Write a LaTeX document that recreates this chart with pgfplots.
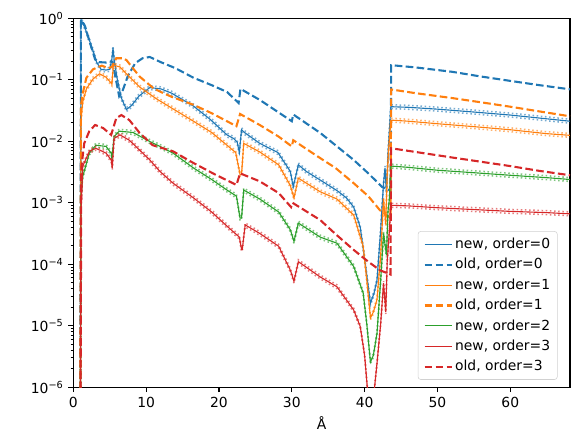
\documentclass[border=0pt]{standalone}
\usepackage{fontspec}
\setmainfont{DejaVu Sans}
\usepackage{pgfplots}
\usepackage{pgfplotstable}
\pgfplotsset{compat=1.18}
\usetikzlibrary{calc}
\definecolor{C0}{HTML}{1F77B4}
\definecolor{C1}{HTML}{FF7F0E}
\definecolor{C2}{HTML}{2CA02C}
\definecolor{C3}{HTML}{D62728}

% new, order=0
\pgfplotstableread{
x y
0.95 1e-8
1.05 0.90
1.1 0.93
1.5 0.75
2.3 0.41
2.8 0.275
3.2 0.194
3.8 0.148
4.5 0.144
5.0 0.148
5.3 0.219
5.45 0.33
5.6 0.219
6.0 0.108
6.6 0.0505
7.3 0.0328
8.0 0.0382
9.0 0.0541
10.5 0.0747
12.0 0.0713
13.5 0.0606
16.5 0.0374
18.8 0.0227
21.1 0.0127
22.0 0.0111
22.5 0.0097
22.8 0.00655
23.1 0.0154
23.5 0.0139
25.6 0.00925
28.1 0.00655
29.8 0.00323
30.2 0.00181
30.9 0.00414
32.0 0.00323
33.9 0.00234
36.2 0.00158
37.5 0.00120
38.5 8.5e-4
39.4 3.98e-4
40.0 1.23e-4
40.8 2.32e-5
41.3 3.41e-5
41.7 5.54e-5
42.2 3.54e-4
42.6 2.08e-3
42.8 3.68e-3
43.0 1.44e-3
43.2 5.84e-3
43.4 0.0150
43.6 0.0365
46 0.0357
50 0.0333
55 0.0299
60 0.0267
65 0.0232
68.2 0.0212
}\newA

% old, order=0
\pgfplotstableread{
x y
0.95 1e-8
1.05 0.90
1.1 0.95
1.6 0.75
2.3 0.395
3.0 0.214
3.5 0.194
4.5 0.191
5.0 0.199
5.4 0.194
5.8 0.108
6.3 0.0541
6.8 0.068
7.5 0.116
8.5 0.186
9.5 0.224
10.5 0.235
12.0 0.194
14 0.155
16.5 0.108
19 0.0818
21.1 0.0635
22.7 0.042
22.95 0.0713
25.6 0.0471
28.1 0.0299
30.0 0.0212
30.2 0.0273
33.9 0.0137
36 0.00863
38.5 0.00497
40.5 0.00301
42.4 0.00181
43.55 0.00158
43.65 0.173
47 0.159
52 0.135
56 0.113
60 0.096
64 0.0818
68.2 0.070
}\oldA

% new, order=1
\pgfplotstableread{
x y
0.95 1e-8
1.05 0.0212
1.3 0.0439
1.8 0.0713
2.7 0.103
3.6 0.125
4.5 0.110
5.3 0.0857
5.5 0.173
6.4 0.162
7.3 0.125
9.1 0.0764
11.4 0.0492
13.7 0.0336
16.5 0.0212
19 0.0139
21.1 0.00863
22.3 0.00655
22.9 0.00287
23.1 0.00287
23.4 0.00925
25.6 0.0067
28.2 0.00414
29.8 0.0019
30.3 0.0012
30.9 0.00251
33.9 0.00151
36.2 0.00115
38.5 6.29e-4
39.8 1.96e-4
40.3 5.41e-5
40.8 1.34e-5
41.2 1.67e-5
41.7 2.66e-5
42.2 1.39e-4
42.6 1.145e-3
42.9 4.46e-4
43.1 2.87e-3
43.3 7.35e-3
43.6 0.0221
46 0.0212
50 0.0193
55 0.0173
60 0.0154
65 0.0133
68.2 0.0125
}\newB

% old, order=1
\pgfplotstableread{
x y
0.95 1e-8
1.05 0.0382
1.3 0.0606
1.8 0.108
2.7 0.148
3.9 0.170
4.8 0.155
5.3 0.162
5.9 0.224
6.8 0.224
7.3 0.209
9.1 0.113
11 0.073
12 0.0635
13.5 0.0529
16.5 0.0392
19 0.0286
22.4 0.0176
22.9 0.0278
25.6 0.0184
28.2 0.0119
30.0 0.00825
30.2 0.0104
33.9 0.00532
36 0.00368
38.5 0.00208
40.5 0.00128
42.1 7.57e-4
43.55 5.61e-4
43.65 0.0696
47 0.0606
52 0.0505
56 0.043
60 0.0365
64 0.0306
68.2 0.0255
}\oldB

% new, order=2
\pgfplotstableread{
x y
0.95 1e-8
1.05 0.00115
1.3 0.00268
2.2 0.00641
3.1 0.00863
4.5 0.00825
5.2 0.00641
5.3 0.00521
5.6 0.0119
6.3 0.0146
8.2 0.0139
10.5 0.00991
11.9 0.00825
13.7 0.00641
16.5 0.00368
19 0.00239
21.1 0.00161
22.4 0.00128
22.9 5.61e-4
23.1 5.61e-4
23.4 0.00161
25.6 0.00115
28.2 7.07e-4
29.8 3.63e-4
30.3 2.35e-4
30.9 4.67e-4
33.9 2.76e-4
36.2 2.2e-4
38.5 9.19e-5
39.8 3.41e-5
40.3 1.06e-5
40.8 2.56e-6
41.2 3.29e-6
41.7 7.53e-6
42.2 5.41e-5
42.6 3.17e-4
43.0 1.39e-4
43.2 7.07e-4
43.4 1.145e-3
43.6 0.00395
46 0.00377
50 0.00338
55 0.00308
60 0.0028
65 0.00256
68.2 0.00239
}\newC

% new, order=3
\pgfplotstableread{
x y
0.95 1e-8
1.05 7.07e-4
1.3 0.00395
2.2 0.00686
3.1 0.0077
4.5 0.00641
5.2 0.00497
5.35 0.00368
5.6 0.0111
6.4 0.0127
7.7 0.0104
10.5 0.00497
11.9 0.00323
13.7 0.00208
16.5 0.0012
19 7.07e-4
21.1 4.17e-4
22.8 2.76e-4
23.1 1.74e-4
23.2 1.74e-4
23.6 4.36e-4
25.6 3.17e-4
28.2 1.96e-4
29.8 8.0e-5
30.3 5.29e-5
30.9 1.1e-4
33.9 6.21e-5
36.2 4.3e-5
38.5 1.8e-5
39.4 9.7e-6
40.0 3.29e-6
40.5 6.4e-7
41.2 6.4e-7
41.7 2.45e-6
42.2 1.06e-5
42.6 4.94e-5
42.9 1.67e-5
43.1 1.1e-4
43.4 3.54e-4
43.6 9.1e-4
46 8.89e-4
50 8.3e-4
55 7.75e-4
60 7.24e-4
65 6.91e-4
68.2 6.6e-4
}\newD

% old, order=3
\pgfplotstableread{
x y
0.95 1e-8
1.1 0.00368
1.5 0.00925
2.2 0.0146
3.0 0.0184
4.1 0.0164
5.2 0.0127
5.9 0.0238
6.6 0.0267
7.7 0.0221
9.1 0.0137
10.9 0.00863
13.7 0.00686
16.5 0.00443
19.5 0.00287
22.4 0.00195
22.9 0.00301
25.6 0.00223
28.2 0.00144
29.9 8.5e-4
30.1 9.98e-4
33.9 5.24e-4
36 3.1e-4
38.5 1.71e-4
40.5 1.1e-4
42.1 8.0e-5
43.55 6.81e-5
43.65 0.0077
47 0.0067
52 0.00545
56 0.00464
60 0.00395
64 0.0033
68.2 0.0028
}\oldD

\begin{document}
\begin{tikzpicture}
\begin{axis}[
  name=ax,
  scale only axis,
  width=357.8pt, height=265.7pt,
  ymode=log, log basis y=10,
  xmin=0, xmax=68.2, ymin=1e-6, ymax=1,
  xtick={0,10,20,30,40,50,60},
  ytick={1e-6,1e-5,1e-4,1e-3,1e-2,1e-1,1},
  yticklabels={10\textsuperscript{−6},10\textsuperscript{−5},10\textsuperscript{−4},10\textsuperscript{−3},10\textsuperscript{−2},10\textsuperscript{−1},10\textsuperscript{0}},
  minor ytick={2e-6,3e-6,4e-6,5e-6,6e-6,7e-6,8e-6,9e-6,2e-5,3e-5,4e-5,5e-5,6e-5,7e-5,8e-5,9e-5,2e-4,3e-4,4e-4,5e-4,6e-4,7e-4,8e-4,9e-4,2e-3,3e-3,4e-3,5e-3,6e-3,7e-3,8e-3,9e-3,2e-2,3e-2,4e-2,5e-2,6e-2,7e-2,8e-2,9e-2,2e-1,3e-1,4e-1,5e-1,6e-1,7e-1,8e-1,9e-1},
  tick align=outside,
  xtick pos=bottom, ytick pos=left,
  major tick length=3.5pt, minor tick length=2pt,
  every tick/.style={black, line width=0.8pt},
  every minor tick/.style={black, line width=0.6pt},
  axis line style={line width=0.8pt},
  tick label style={font=\fontsize{10}{12}\selectfont},
  /pgf/number format/assume math mode=true,
  xlabel={Å},
  xlabel style={font=\fontsize{10}{12}\selectfont},
  legend cell align=left,
  legend image code/.code={\draw[#1] (0pt,0pt) -- (20pt,0pt);},
  legend style={at={(0.975,0.02)}, anchor=south east,
    draw=black!18, rounded corners=2pt, fill=white, fill opacity=0.8, text opacity=1,
    font=\fontsize{10}{12}\selectfont, row sep=3.2pt, inner xsep=4pt, inner ysep=3.5pt,
    nodes={inner sep=1.2pt}},
]
\pgfplotsset{
  newline/.style={line width=0.8pt},
  oldline/.style={line width=1.5pt, dash pattern=on 5.5pt off 2.4pt},
  dotup/.style={line width=1.1pt, dash pattern=on 1.1pt off 1.9pt, opacity=0.6, yshift=1.4pt, forget plot},
  dotdn/.style={line width=1.1pt, dash pattern=on 1.1pt off 1.9pt, opacity=0.6, yshift=-1.4pt, forget plot},
}
\addplot[C0, dotup] table {\newA};
\addplot[C0, dotdn] table {\newA};
\addplot[C0, newline] table {\newA};
\addlegendentry{new, order=0}
\addplot[C0, oldline] table {\oldA};
\addlegendentry{old, order=0}
\addplot[C1, dotup] table {\newB};
\addplot[C1, dotdn] table {\newB};
\addplot[C1, newline] table {\newB};
\addlegendentry{new, order=1}
\addplot[C1, oldline] table {\oldB};
\addlegendentry{old, order=1}
\addplot[C2, dotup] table {\newC};
\addplot[C2, dotdn] table {\newC};
\addplot[C2, newline] table {\newC};
\addlegendentry{new, order=2}
\addplot[C3, dotup] table {\newD};
\addplot[C3, dotdn] table {\newD};
\addplot[C3, newline] table {\newD};
\addlegendentry{new, order=3}
\addplot[C3, oldline] table {\oldD};
\addlegendentry{old, order=3}
\end{axis}
\pgfresetboundingbox
\path ($(ax.south west)+(-52.8pt,-41.5pt)$) rectangle ($(ax.north east)+(5.76pt,13.2pt)$);
\end{tikzpicture}
\end{document}
